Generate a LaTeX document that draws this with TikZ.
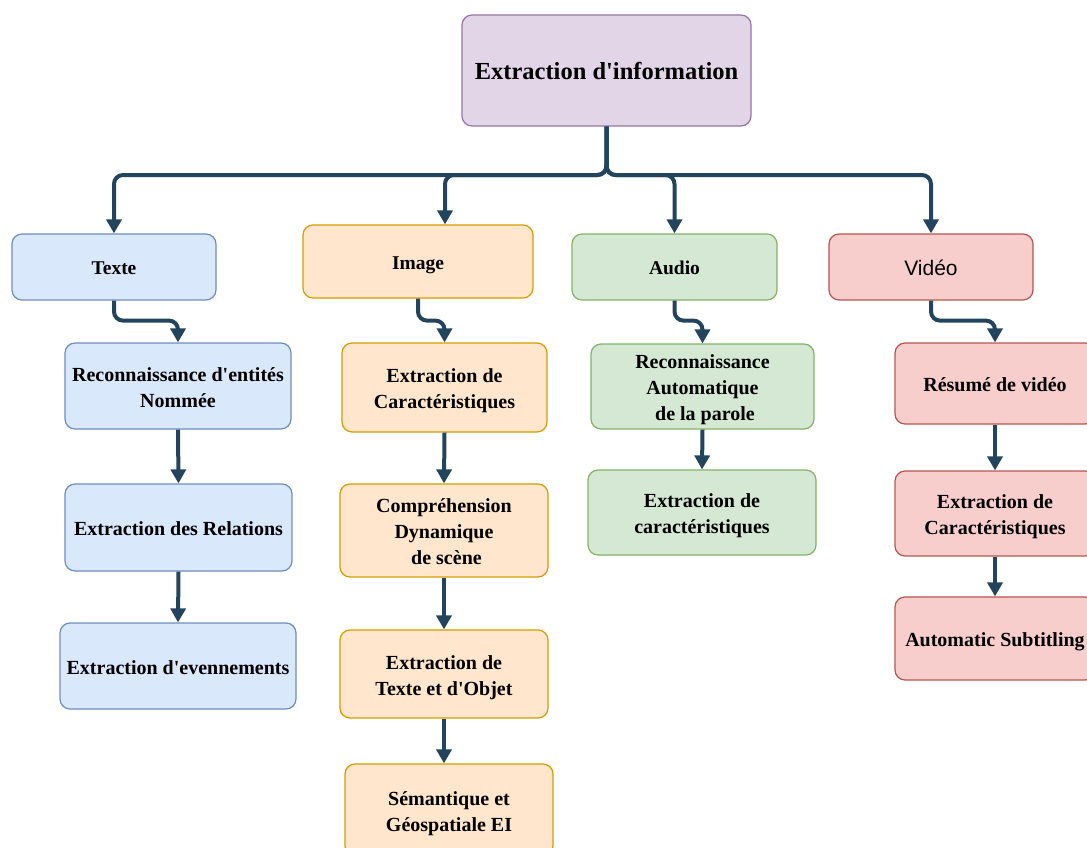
\documentclass[tikz,border=0pt]{standalone}
\usepackage{fontspec}
\setmainfont{Liberation Serif}[Ligatures=TeXOff]
\newfontfamily\sansf{Liberation Sans}
\usetikzlibrary{arrows.meta,calc}

\definecolor{edgec}{HTML}{23445D}
\definecolor{bluef}{HTML}{DAE8FC}\definecolor{blued}{HTML}{6C8EBF}
\definecolor{orf}{HTML}{FFE6CC}\definecolor{ord}{HTML}{D79B00}
\definecolor{grf}{HTML}{D5E8D4}\definecolor{grd}{HTML}{82B366}
\definecolor{redf}{HTML}{F8CECC}\definecolor{redd}{HTML}{B85450}
\definecolor{purf}{HTML}{E1D5E7}\definecolor{purd}{HTML}{9673A6}

% box label: lowered slightly inside its box, dimensions kept
\newcommand{\lbl}[1]{\raisebox{-3pt}[\height][\depth]{\begin{tabular}{@{}c@{}}#1\end{tabular}}}

\tikzset{
  box/.style={draw, rounded corners=10pt, line width=1.2pt, align=center,
    inner sep=2pt, font=\fontsize{20}{26}\selectfont\bfseries},
  bluebox/.style={box, fill=bluef, draw=blued},
  orbox/.style={box, fill=orf, draw=ord},
  grbox/.style={box, fill=grf, draw=grd},
  redbox/.style={box, fill=redf, draw=redd},
  purbox/.style={box, fill=purf, draw=purd},
  media/.style={font=\fontsize{19.5}{24}\selectfont\bfseries},
  link/.style={draw=edgec, line width=4pt, rounded corners=9pt,
    -{Triangle[width=15pt,length=14pt]}},
}

\begin{document}
\begin{tikzpicture}[x=1pt,y=-1pt]
\useasboundingbox (0,0) rectangle (1087,848);
\clip (0,0) rectangle (1087,848);

% root
\node[purbox, minimum width=289pt, minimum height=111pt,
  font=\fontsize{24.5}{30}\selectfont\bfseries] (root) at (606.5,70.5) {\lbl{Extraction d'information}};

% media types
\node[bluebox, media, minimum width=204pt, minimum height=66pt] (texte) at (114,267) {\lbl{Texte}};
\node[orbox, media, minimum width=230pt, minimum height=73pt] (image) at (418,261.5) {\lbl{Image}};
\node[grbox, media, minimum width=205pt, minimum height=66pt] (audio) at (674.5,267) {\lbl{Audio}};
\node[redbox, minimum width=204pt, minimum height=66pt, font=\fontsize{21}{26}\selectfont\sansf] (video) at (931,267) {\lbl{Vidéo}};

% text tasks
\node[bluebox, minimum width=226pt, minimum height=86pt] (t1) at (178,386) {\lbl{Reconnaissance d'entités\\Nommée}};
\node[bluebox, minimum width=227pt, minimum height=87pt] (t2) at (178.5,527.5) {\lbl{Extraction des Relations}};
\node[bluebox, minimum width=236pt, minimum height=86pt] (t3) at (178,666) {\lbl{Extraction d'evennements}};

% image tasks
\node[orbox, minimum width=205pt, minimum height=89pt] (i1) at (444.5,387.5) {\lbl{Extraction de\\Caractéristiques}};
\node[orbox, minimum width=208pt, minimum height=93pt] (i2) at (444,530.5) {\lbl{Compréhension\\Dynamique\\\ de scène}};
\node[orbox, minimum width=208pt, minimum height=88pt] (i3) at (444,674) {\lbl{Extraction de\\Texte et d'Objet}};
\node[orbox, minimum width=208pt, minimum height=92pt] (i4) at (449,810) {\lbl{Sémantique et\\Géospatiale EI}};

% audio tasks
\node[grbox, minimum width=223pt, minimum height=85pt] (a1) at (702.5,386.5) {\lbl{Reconnaissance\\Automatique\\\ de la parole}};
\node[grbox, minimum width=228pt, minimum height=85pt] (a2) at (702,512.5) {\lbl{Extraction de\\caractéristiques}};

% video tasks
\node[redbox, minimum width=200pt, minimum height=81pt] (v1) at (995,383.5) {\lbl{Résumé de vidéo}};
\node[redbox, minimum width=200pt, minimum height=85pt] (v2) at (995,513.5) {\lbl{Extraction de\\Caractéristiques}};
\node[redbox, minimum width=200pt, minimum height=83pt] (v3) at (995,638.5) {\lbl{Automatic Subtitling}};

% root to media types
\coordinate (bus) at (606,175);
\draw[link] (root.south) -- (root.south |- bus) -| (texte.north);
\draw[link] (root.south) -- (root.south |- bus) -| ($(image.north)+(27,0)$);
\draw[link] (root.south) -- (root.south |- bus) -| (audio.north);
\draw[link] (root.south) -- (root.south |- bus) -| (video.north);

% media types to first task
\draw[link] (texte.south) -- ++(0,20) -| (t1.north);
\draw[link] (image.south) -- ++(0,22) -| (i1.north);
\draw[link] (audio.south) -- ++(0,20) -| (a1.north);
\draw[link] (video.south) -- ++(0,20) -| (v1.north);

% task chains
\draw[link] (t1.south) -- (t2.north);
\draw[link] (t2.south) -- (t3.north);
\draw[link] (i1.south) -- (i2.north);
\draw[link] (i2.south) -- (i3.north);
\draw[link] (i3.south) -- (i3.south |- i4.north);
\draw[link] (a1.south) -- (a2.north);
\draw[link] (v1.south) -- (v2.north);
\draw[link] (v2.south) -- (v3.north);
\end{tikzpicture}
\end{document}
